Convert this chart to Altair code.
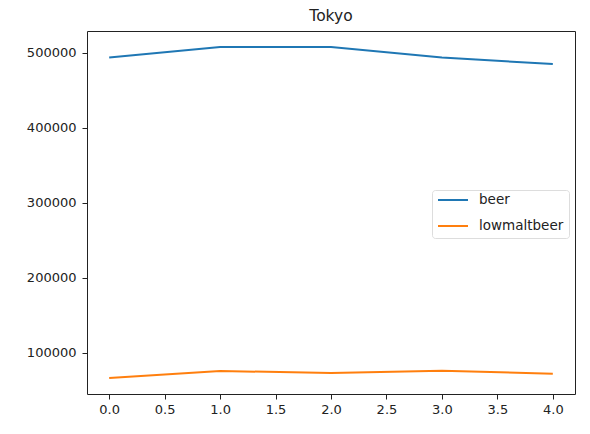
import altair as alt
import pandas as pd

x_vals = [0, 1, 2, 3, 4]
beer = [494000, 508000, 508000, 494000, 485300]
lowmaltbeer = [66700, 76000, 73300, 76400, 72300]
series_names = ["beer", "lowmaltbeer"]
colors = ["#1f77b4", "#ff7f0e"]
x_ticks = [0, 0.5, 1.0, 1.5, 2.0, 2.5, 3.0, 3.5, 4.0]
y_ticks = [100000, 200000, 300000, 400000, 500000]

rows = []
for name, vals in zip(series_names, [beer, lowmaltbeer]):
    for xv, yv in zip(x_vals, vals):
        rows.append({"x": xv, "value": yv, "series": name})
df = pd.DataFrame(rows)

font = "DejaVu Sans"

chart = alt.Chart(df).mark_line(strokeWidth=2).encode(
    x=alt.X("x:Q",
            scale=alt.Scale(domain=[-0.2, 4.2], nice=False, zero=False),
            axis=alt.Axis(values=x_ticks, format=".1f", title=None, grid=False,
                          domain=False, tickSize=5, tickColor="#222",
                          labelColor="#222", labelFont=font, labelFontSize=13,
                          labelPadding=4, labelFlush=False)),
    y=alt.Y("value:Q",
            scale=alt.Scale(domain=[45333, 529333], nice=False, zero=False),
            axis=alt.Axis(values=y_ticks, format="d", title=None, grid=False,
                          domain=False, tickSize=5, tickColor="#222",
                          labelColor="#222", labelFont=font, labelFontSize=13,
                          labelPadding=6, labelFlush=False)),
    color=alt.Color("series:N",
                    scale=alt.Scale(domain=series_names, range=colors),
                    legend=alt.Legend(title=None, orient="none", legendX=345, legendY=159,
                                      symbolType="stroke", symbolStrokeWidth=2,
                                      symbolSize=900, clipHeight=10,
                                      labelFont=font, labelFontSize=13.5,
                                      labelColor="#222", fillColor="white",
                                      strokeColor="#dddddd", padding=5,
                                      cornerRadius=3, rowPadding=12, labelOffset=10)),
).properties(
    width=488,
    height=363,
    title=alt.TitleParams("Tokyo", font=font, fontSize=15.5, fontWeight="normal",
                          color="#222", offset=7),
    autosize=alt.AutoSizeParams(type="none"),
    padding={"left": 79, "top": 23, "right": 7, "bottom": 32},
).configure(
    background="white"
).configure_view(
    stroke="#222", strokeWidth=1
)

chart.save("out.html", embed_options={"renderer": "svg", "actions": False})
